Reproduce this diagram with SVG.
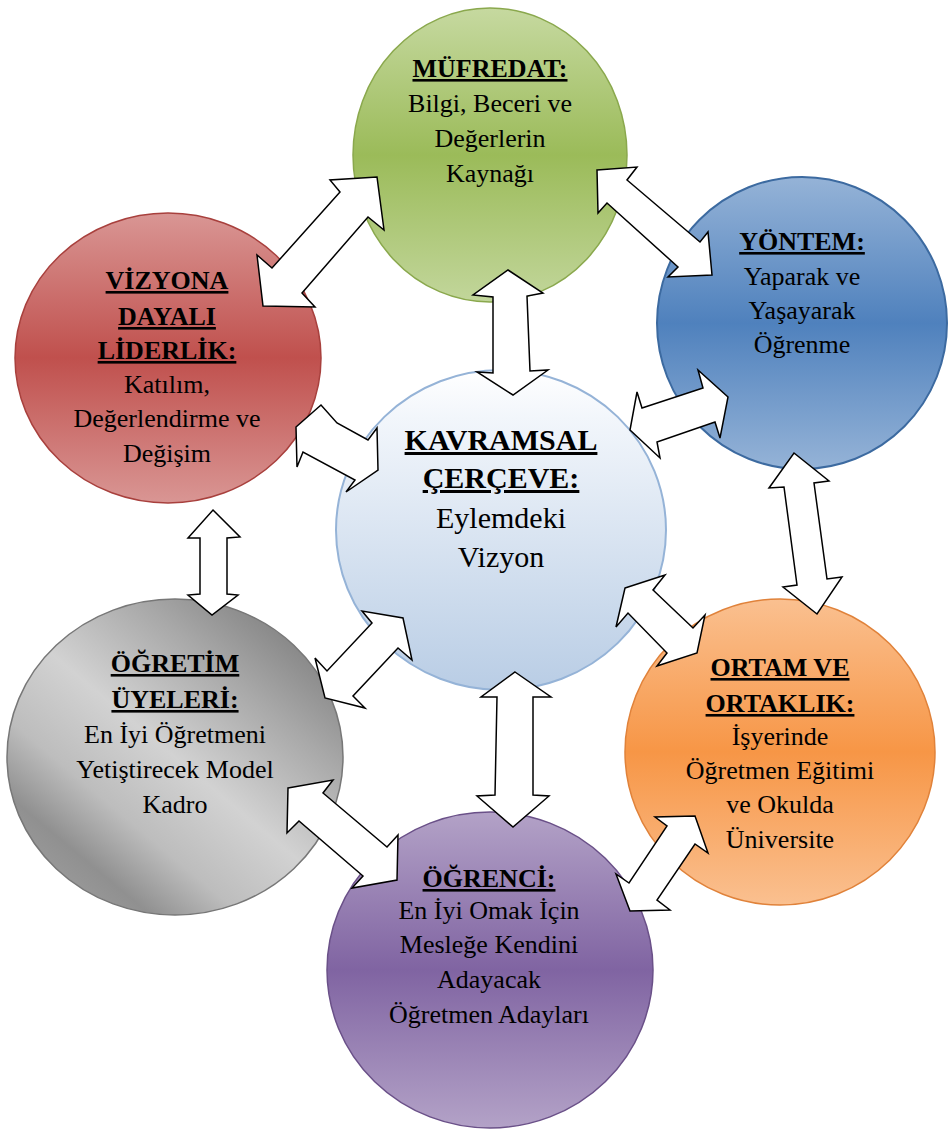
<svg xmlns="http://www.w3.org/2000/svg" width="948" height="1131" viewBox="0 0 948 1131">
<style>
.t{font-size:26px;fill:#000;text-anchor:middle}
.b{font-weight:bold;text-decoration:underline}
.c{font-size:30px}
.arrow{fill:#fff;stroke:#000;stroke-width:1.5;stroke-linejoin:miter}
</style>
<defs>
<linearGradient id="gGreen" x1="0" y1="0" x2="0" y2="1"><stop offset="0" stop-color="#c6d9a0"/><stop offset="0.5" stop-color="#9bbb59"/><stop offset="1" stop-color="#c2d69b"/></linearGradient>
<linearGradient id="gBlue" x1="0" y1="0" x2="0" y2="1"><stop offset="0" stop-color="#95b3d7"/><stop offset="0.5" stop-color="#4f81bd"/><stop offset="1" stop-color="#95b3d7"/></linearGradient>
<linearGradient id="gRed" x1="0" y1="0" x2="0" y2="1"><stop offset="0" stop-color="#d99694"/><stop offset="0.5" stop-color="#c0504d"/><stop offset="1" stop-color="#d99694"/></linearGradient>
<linearGradient id="gOrange" x1="0" y1="0" x2="0" y2="1"><stop offset="0" stop-color="#fac090"/><stop offset="0.5" stop-color="#f79646"/><stop offset="1" stop-color="#fac090"/></linearGradient>
<linearGradient id="gPurple" x1="0" y1="0" x2="0" y2="1"><stop offset="0" stop-color="#b3a2c7"/><stop offset="0.5" stop-color="#8064a2"/><stop offset="1" stop-color="#b3a2c7"/></linearGradient>
<linearGradient id="gCenter" x1="0" y1="0" x2="0" y2="1"><stop offset="0" stop-color="#ffffff"/><stop offset="0.15" stop-color="#f2f6fb"/><stop offset="1" stop-color="#b9cde5"/></linearGradient>
<linearGradient id="gGray" x1="0.9" y1="0.05" x2="0.1" y2="0.95"><stop offset="0" stop-color="#7a7a7a"/><stop offset="0.25" stop-color="#a8a8a8"/><stop offset="0.5" stop-color="#d2d2d2"/><stop offset="0.7" stop-color="#bdbdbd"/><stop offset="0.85" stop-color="#909090"/><stop offset="1" stop-color="#a0a0a0"/></linearGradient>
</defs>

<g id="node-mufredat" font-family="Liberation Serif">
<ellipse cx="490" cy="155" rx="137" ry="147" fill="url(#gGreen)" stroke="#8aa84d" stroke-width="1.5"/>
<text class="t b" x="490" y="77">MÜFREDAT:</text>
<text class="t" x="490" y="112">Bilgi, Beceri ve</text>
<text class="t" x="490" y="147">Değerlerin</text>
<text class="t" x="490" y="182">Kaynağı</text>
</g>

<g id="node-yontem" font-family="Liberation Serif">
<ellipse cx="802" cy="323" rx="145" ry="146" fill="url(#gBlue)" stroke="#3c6aa0" stroke-width="2"/>
<text class="t b" x="802" y="250">YÖNTEM:</text>
<text class="t" x="802" y="285">Yaparak ve</text>
<text class="t" x="802" y="319">Yaşayarak</text>
<text class="t" x="802" y="353">Öğrenme</text>
</g>

<g id="node-vizyon" font-family="Liberation Serif">
<ellipse cx="168" cy="358" rx="153" ry="145" fill="url(#gRed)" stroke="#a8403d" stroke-width="1.5"/>
<text class="t b" x="167" y="289">VİZYONA</text>
<text class="t b" x="167" y="325">DAYALI</text>
<text class="t b" x="167" y="359">LİDERLİK:</text>
<text class="t" x="167" y="393">Katılım,</text>
<text class="t" x="167" y="427">Değerlendirme ve</text>
<text class="t" x="167" y="462">Değişim</text>
</g>

<g id="node-ortam" font-family="Liberation Serif">
<ellipse cx="780" cy="752" rx="155" ry="153" fill="url(#gOrange)" stroke="#e0823a" stroke-width="1.5"/>
<text class="t b" x="780" y="676">ORTAM VE</text>
<text class="t b" x="780" y="712">ORTAKLIK:</text>
<text class="t" x="780" y="745">İşyerinde</text>
<text class="t" x="780" y="779">Öğretmen Eğitimi</text>
<text class="t" x="780" y="813">ve Okulda</text>
<text class="t" x="780" y="848">Üniversite</text>
</g>

<g id="node-ogretim" font-family="Liberation Serif">
<ellipse cx="175" cy="757" rx="168" ry="158" fill="url(#gGray)" stroke="#777777" stroke-width="1.5"/>
<text class="t b" x="175" y="672">ÖĞRETİM</text>
<text class="t b" x="175" y="708">ÜYELERİ:</text>
<text class="t" x="175" y="743">En İyi Öğretmeni</text>
<text class="t" x="175" y="778">Yetiştirecek Model</text>
<text class="t" x="175" y="813">Kadro</text>
</g>

<g id="node-ogrenci" font-family="Liberation Serif">
<ellipse cx="490" cy="970" rx="163" ry="158" fill="url(#gPurple)" stroke="#6a5088" stroke-width="1.5"/>
<text class="t b" x="489" y="887">ÖĞRENCİ:</text>
<text class="t" x="489" y="919">En İyi Omak İçin</text>
<text class="t" x="489" y="953">Mesleğe Kendini</text>
<text class="t" x="489" y="988">Adayacak</text>
<text class="t" x="489" y="1023">Öğretmen Adayları</text>
</g>

<g id="node-kavramsal" font-family="Liberation Serif">
<ellipse cx="501" cy="530" rx="165" ry="160" fill="url(#gCenter)" stroke="#95b3d7" stroke-width="2"/>
<text class="t b c" x="501" y="450">KAVRAMSAL</text>
<text class="t b c" x="501" y="488">ÇERÇEVE:</text>
<text class="t c" x="501" y="528">Eylemdeki</text>
<text class="t c" x="501" y="567">Vizyon</text>
</g>

<g id="connectors">
<polygon class="arrow" points="263,306 315,307 302,293 368,217 384,230 377,177 330,180 340,192 272,268 257,255"/>
<polygon class="arrow" points="597,170 637,167 627,180 700,242 708,232 712,275 668,277 678,267 607,203 598,213"/>
<polygon class="arrow" points="508,270 543,293 527,296 530,371 548,370 513,395 477,372 493,373 493,297 473,295"/>
<polygon class="arrow" points="630,430 637,392 642,408 703,388 698,370 728,397 720,438 715,422 657,442 660,458"/>
<polygon class="arrow" points="296,427 321,405 337,423 368,440 377,428 378,470 346,492 355,480 303,452 297,467"/>
<polygon class="arrow" points="794,453 829,481 814,483 827,579 842,577 817,614 783,587 797,585 784,487 769,488"/>
<polygon class="arrow" points="625,588 665,575 653,590 693,628 705,615 697,653 657,666 667,653 628,613 616,627"/>
<polygon class="arrow" points="213,510 240,537 227,538 227,594 238,595 212,615 188,595 200,594 200,538 188,538"/>
<polygon class="arrow" points="403,618 412,660 398,648 353,696 365,708 325,698 315,658 327,671 372,623 362,611"/>
<polygon class="arrow" points="515,672 551,697 533,697 533,795 549,796 513,827 477,796 495,795 497,697 481,697"/>
<polygon class="arrow" points="288,788 333,780 323,793 387,847 398,835 397,880 352,888 363,876 299,821 287,833"/>
<polygon class="arrow" points="695,816 708,853 695,844 657,900 670,910 630,911 616,874 629,883 667,826 655,817"/>
</g>
</svg>
